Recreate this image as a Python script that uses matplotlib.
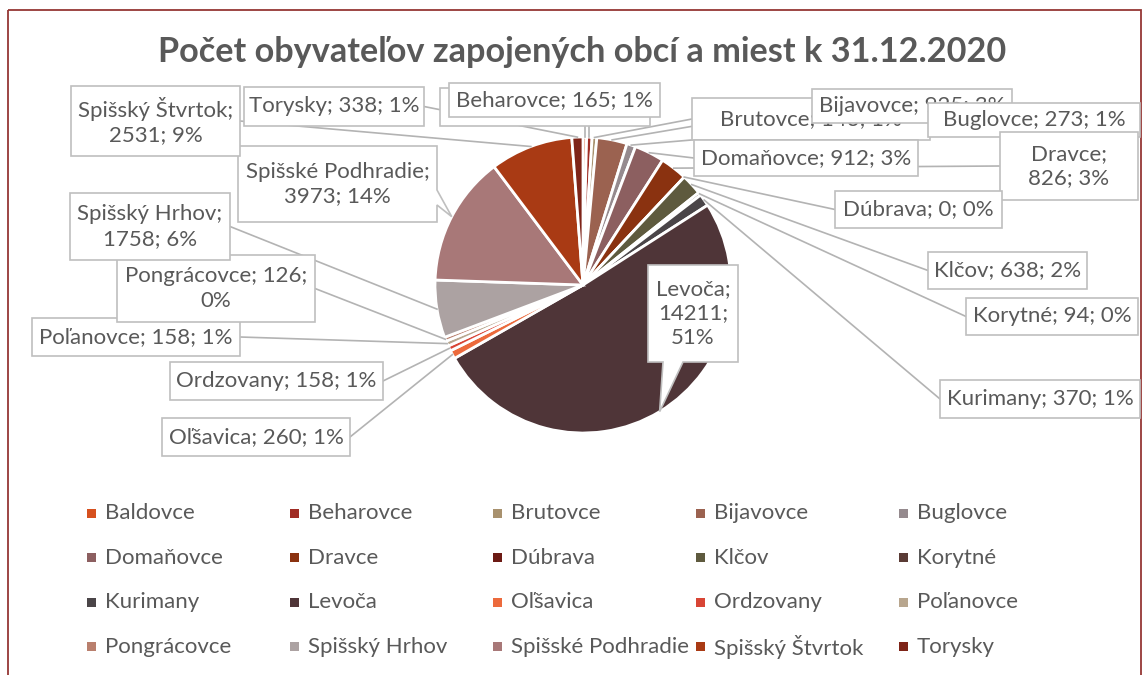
import matplotlib
matplotlib.use("Agg")
import matplotlib.pyplot as plt
from matplotlib.patches import Rectangle, Polygon
import numpy as np

# data
names = ["Baldovce", "Beharovce", "Brutovce", "Bijavovce", "Buglovce",
         "Domaňovce", "Dravce", "Dúbrava", "Klčov", "Korytné",
         "Kurimany", "Levoča", "Oľšavica", "Ordzovany", "Poľanovce",
         "Pongrácovce", "Spišský Hrhov", "Spišské Podhradie", "Spišský Štvrtok", "Torysky"]
population = [110, 165, 143, 925, 273,
              912, 826, 0, 638, 94,
              370, 14211, 260, 158, 158,
              126, 1758, 3973, 2531, 338]
colors = ["#D6501E", "#A02C24", "#A8916E", "#9B6250", "#958A8E",
          "#8C5F60", "#8A3210", "#6C1A14", "#5E5A3E", "#5A3B35",
          "#4A4548", "#4F3538", "#EC6A3C", "#D84535", "#B8A68E",
          "#B97F6D", "#ACA2A2", "#A87878", "#A93A14", "#7E2418"]

title = "Počet obyvateľov zapojených obcí a miest k 31.12.2020"

# label boxes in pixels (x0, y0, x1, y1)
label_boxes = {
    "Baldovce": (440, 88, 650, 126),
    "Beharovce": (449, 83, 660, 117),
    "Brutovce": (692, 98, 930, 140),
    "Bijavovce": (812, 89, 1012, 123),
    "Buglovce": (928, 103, 1140, 137),
    "Domaňovce": (694, 140, 918, 176),
    "Dravce": (1000, 132, 1138, 200),
    "Dúbrava": (835, 191, 1002, 228),
    "Klčov": (928, 252, 1087, 289),
    "Korytné": (966, 298, 1138, 335),
    "Kurimany": (940, 380, 1140, 418),
    "Levoča": (648, 265, 738, 362),
    "Oľšavica": (162, 418, 350, 456),
    "Ordzovany": (170, 362, 383, 400),
    "Poľanovce": (32, 318, 240, 356),
    "Pongrácovce": (117, 255, 315, 322),
    "Spišský Hrhov": (70, 193, 230, 260),
    "Spišské Podhradie": (238, 146, 437, 222),
    "Spišský Štvrtok": (71, 86, 240, 156),
    "Torysky": (244, 87, 424, 126),
}
# where a label wraps (after which part)
label_breaks = {"Spišský Štvrtok": {1}, "Dravce": {1}, "Spišské Podhradie": {1},
                "Spišský Hrhov": {1}, "Pongrácovce": {2}, "Levoča": {1, 2}}

W, H = 1145, 675
TXT = "#595959"
GRID = "#BFBFBF"
FONT = "Lato"
FS = 16

fig = plt.figure(figsize=(W / 100, H / 100), dpi=100)
ax = fig.add_axes([0, 0, 1, 1])

cx, cy, R = 583, 285, 148
wedges, _ = ax.pie(population, colors=colors, center=(cx, cy), radius=R,
                   startangle=-90, counterclock=True,
                   wedgeprops=dict(edgecolor="white", linewidth=2))
ax.set_xlim(0, W)
ax.set_ylim(H, 0)
ax.set_aspect("auto")
ax.axis("off")

total = sum(population)

for i, (name, val, w) in enumerate(zip(names, population, wedges)):
    theta = np.deg2rad((w.theta1 + w.theta2) / 2)
    px, py = cx + R * np.cos(theta), cy + R * np.sin(theta)
    x0, y0, x1, y1 = label_boxes[name]

    parts = [name, str(val), "%d%%" % round(val / total * 100)]
    brk = label_breaks.get(name, set())
    txt = parts[0]
    for k in range(1, 3):
        txt += (";\n" if k in brk else "; ") + parts[k]

    z = 3 + i * 0.01
    if name == "Levoča":
        # callout pointing down to the slice
        poly = [(x0, y0), (x1, y0), (x1, y1), (683, y1), (px, py), (663, y1), (x0, y1)]
        ax.add_patch(Polygon(poly, closed=True, fc="white", ec=GRID, lw=1.2, zorder=z))
    elif name == "Spišské Podhradie":
        poly = [(x0, y0), (x1, y0), (x1, 190), (px, py), (x1, 205), (x1, y1), (x0, y1)]
        ax.add_patch(Polygon(poly, closed=True, fc="white", ec=GRID, lw=1.2, zorder=z))
    else:
        # leader line from slice edge to nearest box side
        if px < x0:
            bx, by = x0, (y0 + y1) / 2
        elif px > x1:
            bx, by = x1, (y0 + y1) / 2
        elif py < y0:
            bx, by = px, y0
        else:
            bx, by = px, y1
        ax.plot([px, bx], [py, by], color="#B3B3B3", lw=1.2, zorder=2)
        ax.add_patch(Rectangle((x0, y0), x1 - x0, y1 - y0, fc="white", ec=GRID,
                               lw=1.2, zorder=z))
    ax.text((x0 + x1) / 2, (y0 + y1) / 2, txt, ha="center", va="center",
            ma="center", color=TXT, fontsize=FS, family=FONT,
            linespacing=1.3, zorder=z + 0.005)

# title
ax.text(582, 52, title, ha="center", va="center", color=TXT,
        fontsize=24.7, fontweight="bold", family=FONT)

# legend, 5 columns like the Excel one
for i, (name, c) in enumerate(zip(names, colors)):
    col, row = i % 5, i // 5
    mx = 87 + col * 203
    my = 513 + row * 44.6
    ax.add_patch(Rectangle((mx, my - 4.5), 9, 9, fc=c, ec="none"))
    ax.text(mx + 18, my, name, ha="left", va="center", color=TXT,
            fontsize=FS, family=FONT)

# chart border
ax.add_patch(Rectangle((8, 10), 1133, 700, fc="none", ec="#953735", lw=1.3,
                       clip_on=False))

fig.savefig("out.png", dpi=100)
